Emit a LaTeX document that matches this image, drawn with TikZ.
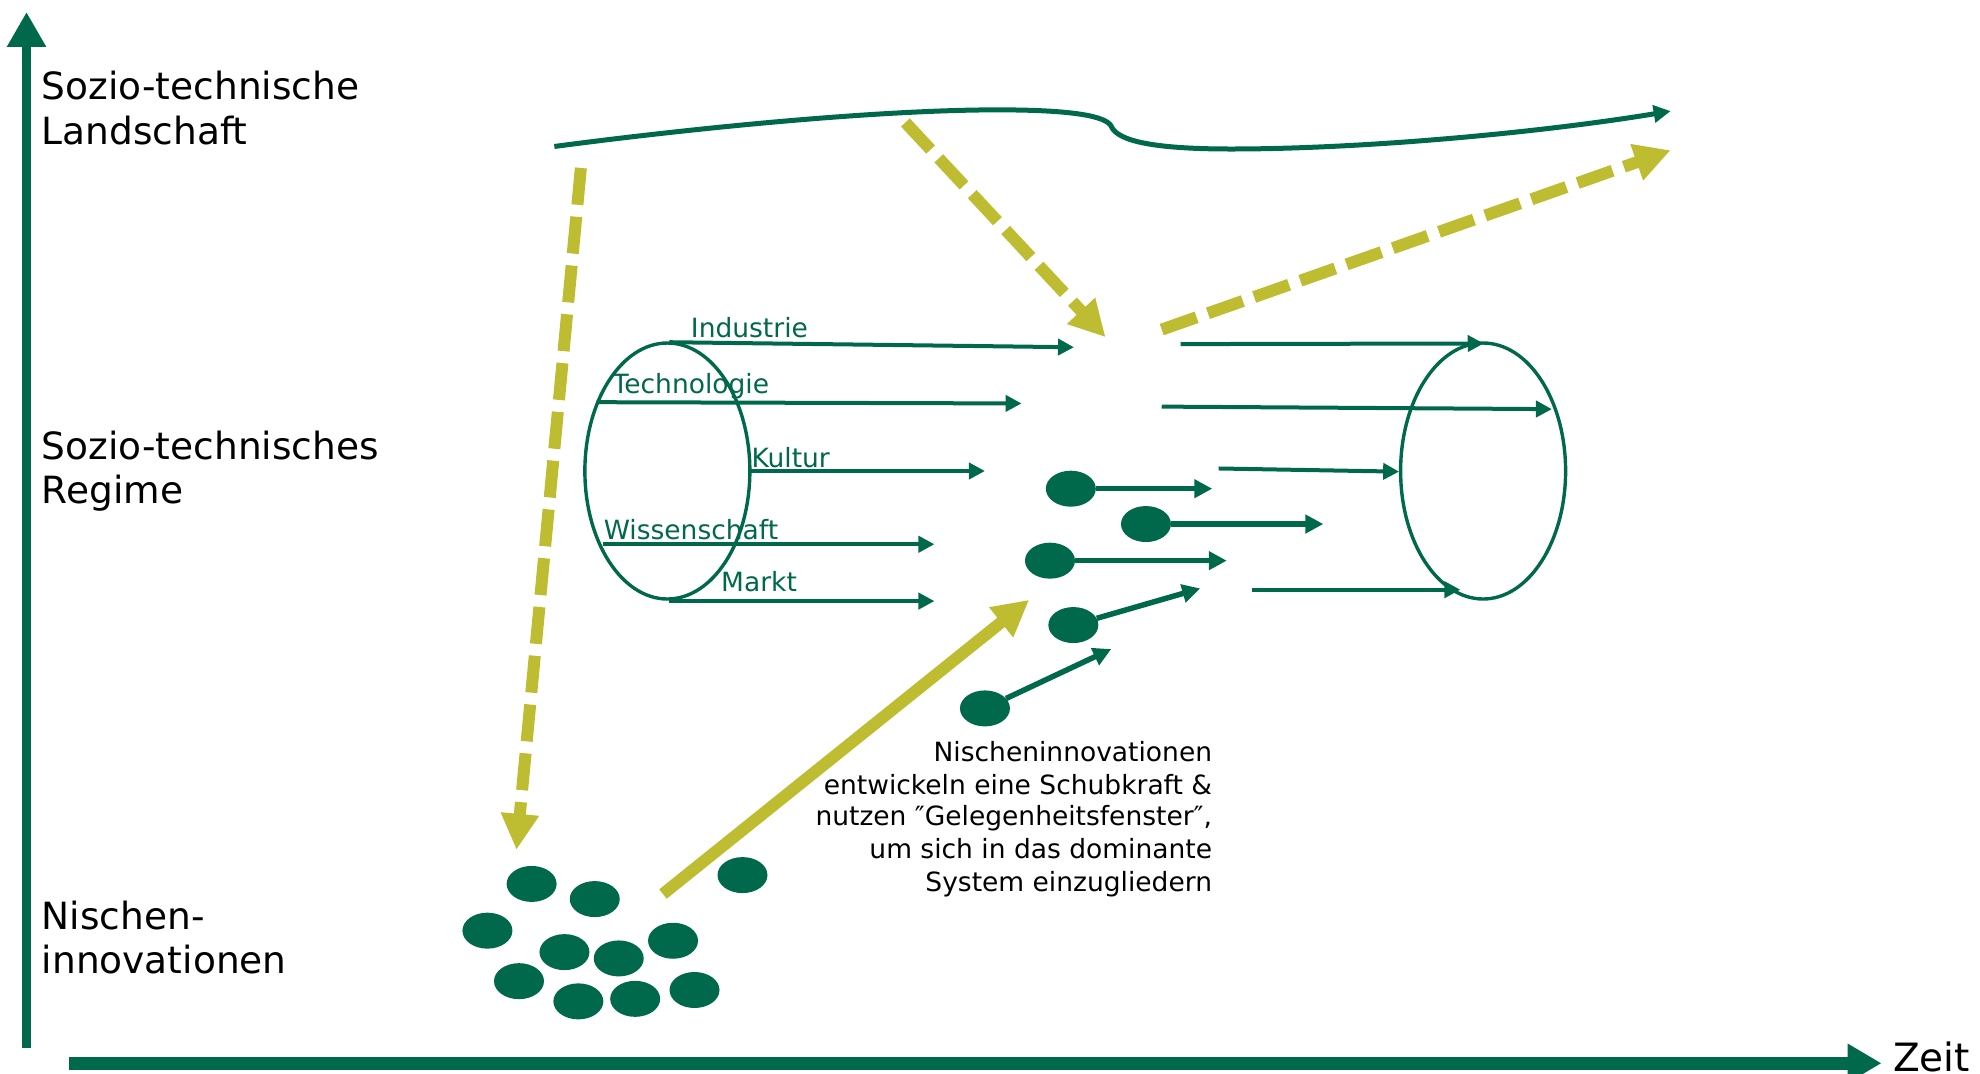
\documentclass[tikz,border=0pt]{standalone}
\usepackage{fontspec}
\setmainfont{DejaVu Sans}
\usetikzlibrary{arrows.meta,shapes.geometric}
\definecolor{G}{RGB}{0,104,75}
\definecolor{Y}{RGB}{190,189,50}
\begin{document}
\begin{tikzpicture}[x=1.2628pt,y=-1.2628pt,
  axislbl/.style={inner sep=0pt,text=black,font=\fontsize{37.5}{45}\selectfont},
  desc/.style={inner sep=0pt,text=black,anchor=base east,font=\fontsize{26.5}{32}\selectfont},
  inlbl/.style={inner sep=0pt,text=G,anchor=base west,font=\fontsize{26.5}{32}\selectfont},
  gline/.style={draw=G,line width=4pt,-{Triangle[length=16pt,width=16pt]}},
  dotarrow/.style={draw=G,line width=5.5pt,-{Triangle[length=18pt,width=18pt]}},
  dot/.style={ellipse,fill=G,minimum width=50pt,minimum height=36pt,inner sep=0pt},
  tube/.style={ellipse,draw=G,line width=3.4pt,minimum width=165pt,minimum height=256pt,inner sep=0pt},
  yarrow/.style={draw=Y,line width=12pt,-{Triangle[length=36pt,width=36pt]}},
  ydash/.style={yarrow,dash pattern=on 37pt off 12pt},
  landline/.style={draw=G,line width=5pt,-{Triangle[length=17pt,width=17pt]}}
]
\useasboundingbox (0,0) rectangle (1568,850.5);

% axes
\coordinate (vA) at (21,830);
\coordinate (vB) at (21,9.5);
\coordinate (hA) at (55,842);
\coordinate (hB) at (1490,842);
\draw[G,line width=9.5pt,-{Triangle[length=35pt,width=37pt]}] (vA) -- (vB);
\draw[G,line width=12.6pt,-{Triangle[length=34pt,width=37pt]}] (hA) -- (hB);

% axis labels
\node[axislbl,anchor=base west] (l1a) at (33,79) {Sozio-technische};
\node[axislbl,anchor=base west] (l1b) at (33,114.5) {Landschaft};
\node[axislbl,anchor=base west] (l2a) at (33,364) {Sozio-technisches};
\node[axislbl,anchor=base west] (l2b) at (33,398.5) {Regime};
\node[axislbl,anchor=base west] (l3a) at (33,736) {Nischen-};
\node[axislbl,anchor=base west] (l3b) at (33,771) {innovationen};
\node[inner sep=0pt,anchor=base west,font=\fontsize{39}{46}\selectfont] (zeit) at (1499,848.5) {Zeit};

% landscape line
\coordinate (L0) at (439,116);
\coordinate (L1) at (1323,88);
\draw[landline] (L0) .. controls (560,100) and (700,87) .. (790,87)
  .. controls (850,87) and (876,92) .. (880,100)
  .. controls (885,112) and (915,118) .. (975,118)
  .. controls (1080,118) and (1220,105) .. (L1);

% tubes
\node[tube] (tubeL) at (528.5,373) {};
\node[tube] (tubeR) at (1174.5,373) {};

% left regime arrows
\coordinate (a1s) at (530,271);   \coordinate (a1e) at (850.5,275);
\coordinate (a2s) at (472.5,318.5); \coordinate (a2e) at (809,319.5);
\coordinate (a3s) at (595,373);   \coordinate (a3e) at (780,373);
\coordinate (a4s) at (477.5,431); \coordinate (a4e) at (740,431);
\coordinate (a5s) at (530,476);   \coordinate (a5e) at (740,476);
\draw[gline] (a1s) -- (a1e);
\draw[gline] (a2s) -- (a2e);
\draw[gline] (a3s) -- (a3e);
\draw[gline] (a4s) -- (a4e);
\draw[gline] (a5s) -- (a5e);
\node[inlbl] (tInd) at (547,267) {Industrie};
\node[inlbl] (tTec) at (485,312) {Technologie};
\node[inlbl] (tKul) at (595,370) {Kultur};
\node[inlbl] (tWis) at (478,427) {Wissenschaft};
\node[inlbl] (tMar) at (571,468.5) {Markt};

% right regime arrows
\coordinate (b1s) at (935,272.5); \coordinate (b1e) at (1175,272);
\coordinate (b2s) at (920,322);   \coordinate (b2e) at (1229,324);
\coordinate (b3s) at (965,371);   \coordinate (b3e) at (1108,373.5);
\coordinate (b4s) at (991.5,467); \coordinate (b4e) at (1156.5,467);
\draw[gline] (b1s) -- (b1e);
\draw[gline] (b2s) -- (b2e);
\draw[gline] (b3s) -- (b3e);
\draw[gline] (b4s) -- (b4e);

% breaking-through niche innovations
\node[dot] (d1) at (848,387) {};
\node[dot] (d2) at (907.5,415) {};
\node[dot] (d3) at (831.5,444) {};
\node[dot] (d4) at (850,495) {};
\node[dot] (d5) at (780,561) {};
\coordinate (e1) at (960,387);
\coordinate (e2) at (1048,415);
\coordinate (e3) at (971.5,444);
\coordinate (e4) at (950.5,466);
\coordinate (e5) at (880,514);
\draw[dotarrow] (d1) -- (e1);
\draw[dotarrow] (d2) -- (e2);
\draw[dotarrow] (d3) -- (e3);
\draw[dotarrow] (d4) -- (e4);
\draw[dotarrow] (d5) -- (e5);

% niche cluster
\node[dot] (n1) at (421,700) {};
\node[dot] (n2) at (471,712) {};
\node[dot] (n3) at (386,737) {};
\node[dot] (n4) at (447,754) {};
\node[dot] (n5) at (490,759) {};
\node[dot] (n6) at (533,745) {};
\node[dot] (n7) at (411,777) {};
\node[dot] (n8) at (458,793) {};
\node[dot] (n9) at (503,791) {};
\node[dot] (n10) at (550,784) {};
\node[dot] (n11) at (588,693) {};

% yellow arrows
\coordinate (y1s) at (460,133); \coordinate (y1e) at (409,673);
\coordinate (y2s) at (717,97);  \coordinate (y2e) at (875.5,267);
\coordinate (y3s) at (920,261); \coordinate (y3e) at (1323,119);
\coordinate (y4s) at (525,708); \coordinate (y4e) at (815,475);
\draw[ydash] (y1s) -- (y1e);
\draw[ydash] (y2s) -- (y2e);
\draw[ydash] (y3s) -- (y3e);
\draw[yarrow] (y4s) -- (y4e);

% description
\node[desc] (t1) at (960,603) {Nischeninnovationen};
\node[desc] (t2) at (960,629) {entwickeln eine Schubkraft \&};
\node[desc] (t3) at (960,654) {nutzen ″Gelegenheitsfenster″,};
\node[desc] (t4) at (960,680) {um sich in das dominante};
\node[desc] (t5) at (960,706) {System einzugliedern};
\end{tikzpicture}
\end{document}
